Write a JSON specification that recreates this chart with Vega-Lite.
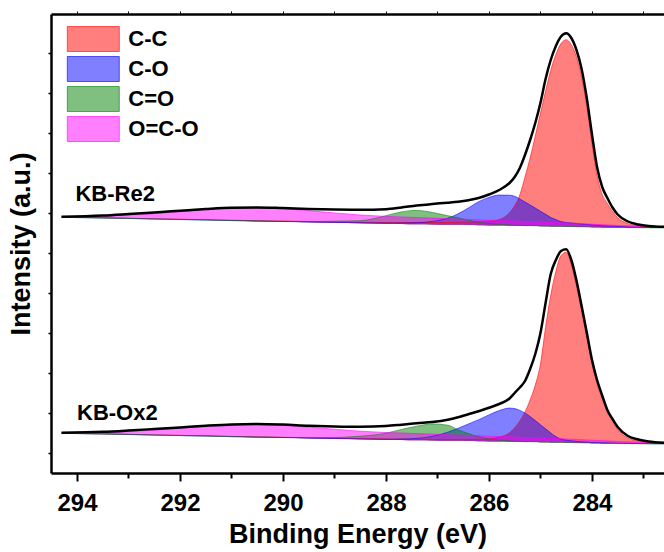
{
  "$schema": "https://vega.github.io/schema/vega-lite/v6.json",
  "width": 613,
  "height": 459,
  "autosize": "none",
  "padding": {"left": 51, "top": 14, "right": 0, "bottom": 79},
  "config": {
    "view": {"stroke": null},
    "font": "Liberation Sans",
    "axis": {"domainColor": "black", "tickColor": "black", "labelColor": "black", "titleColor": "black", "grid": false}
  },
  "data": {"values": [
    {"s":"KB-Re2","e":294.3,"bg":255.7,"C-C":255.9,"C-O":255.7,"C=O":255.7,"O=C-O":256.0,"env":256.2},
    {"s":"KB-Re2","e":293.5,"bg":255.0,"C-C":255.2,"C-O":255.05,"C=O":255.0,"O=C-O":256.8,"env":257.5},
    {"s":"KB-Re2","e":293.0,"bg":254.5,"C-C":254.8,"C-O":254.6,"C=O":254.5,"O=C-O":258.0,"env":259.0},
    {"s":"KB-Re2","e":292.5,"bg":253.9,"C-C":254.2,"C-O":254.0,"C=O":253.95,"O=C-O":259.4,"env":260.6},
    {"s":"KB-Re2","e":292.0,"bg":253.4,"C-C":253.8,"C-O":253.5,"C=O":253.5,"O=C-O":261.4,"env":262.3},
    {"s":"KB-Re2","e":291.5,"bg":252.9,"C-C":253.3,"C-O":253.0,"C=O":253.0,"O=C-O":263.4,"env":264.0},
    {"s":"KB-Re2","e":291.0,"bg":252.3,"C-C":252.8,"C-O":252.4,"C=O":252.5,"O=C-O":264.8,"env":265.3},
    {"s":"KB-Re2","e":290.5,"bg":251.8,"C-C":252.3,"C-O":251.95,"C=O":252.1,"O=C-O":265.3,"env":265.6},
    {"s":"KB-Re2","e":290.0,"bg":251.3,"C-C":251.9,"C-O":251.5,"C=O":251.7,"O=C-O":264.3,"env":264.9},
    {"s":"KB-Re2","e":289.5,"bg":250.8,"C-C":251.5,"C-O":251.05,"C=O":251.4,"O=C-O":262.3,"env":264.0},
    {"s":"KB-Re2","e":289.0,"bg":250.3,"C-C":251.1,"C-O":250.6,"C=O":251.8,"O=C-O":260.1,"env":263.4},
    {"s":"KB-Re2","e":288.5,"bg":249.8,"C-C":250.8,"C-O":250.25,"C=O":252.3,"O=C-O":258.0,"env":263.2},
    {"s":"KB-Re2","e":288.0,"bg":249.3,"C-C":250.5,"C-O":249.9,"C=O":257.3,"O=C-O":256.6,"env":263.8},
    {"s":"KB-Re2","e":287.7,"bg":249.1,"C-C":250.5,"C-O":250.0,"C=O":261.1,"O=C-O":256.1,"env":265.5},
    {"s":"KB-Re2","e":287.4,"bg":248.8,"C-C":250.4,"C-O":250.3,"C=O":262.6,"O=C-O":255.4,"env":267.5},
    {"s":"KB-Re2","e":287.1,"bg":248.6,"C-C":250.5,"C-O":251.6,"C=O":260.6,"O=C-O":254.9,"env":269.0},
    {"s":"KB-Re2","e":286.8,"bg":248.3,"C-C":250.5,"C-O":254.8,"C=O":257.3,"O=C-O":254.3,"env":270.3},
    {"s":"KB-Re2","e":286.6,"bg":248.2,"C-C":250.7,"C-O":259.2,"C=O":255.2,"O=C-O":254.0,"env":271.3},
    {"s":"KB-Re2","e":286.4,"bg":248.0,"C-C":250.9,"C-O":265.0,"C=O":252.8,"O=C-O":253.6,"env":272.8},
    {"s":"KB-Re2","e":286.2,"bg":247.8,"C-C":251.2,"C-O":271.3,"C=O":250.8,"O=C-O":253.2,"env":275.0},
    {"s":"KB-Re2","e":286.0,"bg":247.6,"C-C":251.8,"C-O":275.6,"C=O":249.4,"O=C-O":252.8,"env":278.5},
    {"s":"KB-Re2","e":285.8,"bg":247.4,"C-C":253.4,"C-O":277.9,"C=O":248.6,"O=C-O":252.5,"env":283.0},
    {"s":"KB-Re2","e":285.6,"bg":247.3,"C-C":260.3,"C-O":277.8,"C=O":248.1,"O=C-O":252.2,"env":290.0},
    {"s":"KB-Re2","e":285.5,"bg":247.2,"C-C":267.2,"C-O":276.7,"C=O":247.8,"O=C-O":252.0,"env":296.0},
    {"s":"KB-Re2","e":285.4,"bg":247.1,"C-C":278.1,"C-O":274.1,"C=O":247.6,"O=C-O":251.8,"env":305.0},
    {"s":"KB-Re2","e":285.3,"bg":247.0,"C-C":296.0,"C-O":271.0,"C=O":247.4,"O=C-O":251.6,"env":318.0},
    {"s":"KB-Re2","e":285.2,"bg":247.0,"C-C":315.0,"C-O":268.0,"C=O":247.35,"O=C-O":251.5,"env":333.0},
    {"s":"KB-Re2","e":285.1,"bg":246.9,"C-C":336.9,"C-O":264.9,"C=O":247.2,"O=C-O":251.3,"env":350.0},
    {"s":"KB-Re2","e":285.0,"bg":246.8,"C-C":359.8,"C-O":261.8,"C=O":247.05,"O=C-O":251.1,"env":370.0},
    {"s":"KB-Re2","e":284.9,"bg":246.7,"C-C":381.7,"C-O":258.7,"C=O":246.9,"O=C-O":250.9,"env":394.0},
    {"s":"KB-Re2","e":284.8,"bg":246.6,"C-C":402.6,"C-O":255.6,"C=O":246.8,"O=C-O":250.7,"env":413.0},
    {"s":"KB-Re2","e":284.7,"bg":246.5,"C-C":418.5,"C-O":253.5,"C=O":246.7,"O=C-O":250.5,"env":427.0},
    {"s":"KB-Re2","e":284.6,"bg":246.4,"C-C":429.4,"C-O":251.4,"C=O":246.6,"O=C-O":250.3,"env":436.5},
    {"s":"KB-Re2","e":284.5,"bg":246.3,"C-C":433.3,"C-O":250.6,"C=O":246.5,"O=C-O":250.1,"env":439.7},
    {"s":"KB-Re2","e":284.4,"bg":246.2,"C-C":428.2,"C-O":250.0,"C=O":246.4,"O=C-O":249.8,"env":435.0},
    {"s":"KB-Re2","e":284.3,"bg":246.1,"C-C":416.1,"C-O":249.5,"C=O":246.3,"O=C-O":249.6,"env":423.0},
    {"s":"KB-Re2","e":284.2,"bg":246.0,"C-C":396.0,"C-O":249.0,"C=O":246.2,"O=C-O":249.3,"env":404.0},
    {"s":"KB-Re2","e":284.1,"bg":245.9,"C-C":366.9,"C-O":248.5,"C=O":246.1,"O=C-O":249.1,"env":375.0},
    {"s":"KB-Re2","e":284.0,"bg":245.8,"C-C":329.8,"C-O":248.1,"C=O":246.0,"O=C-O":248.8,"env":339.0},
    {"s":"KB-Re2","e":283.9,"bg":245.7,"C-C":297.7,"C-O":247.7,"C=O":245.9,"O=C-O":248.5,"env":306.0},
    {"s":"KB-Re2","e":283.8,"bg":245.6,"C-C":278.6,"C-O":247.3,"C=O":245.8,"O=C-O":248.3,"env":286.0},
    {"s":"KB-Re2","e":283.7,"bg":245.6,"C-C":269.6,"C-O":247.1,"C=O":245.7,"O=C-O":248.1,"env":275.0},
    {"s":"KB-Re2","e":283.6,"bg":245.5,"C-C":261.5,"C-O":246.8,"C=O":245.6,"O=C-O":247.9,"env":265.5},
    {"s":"KB-Re2","e":283.5,"bg":245.4,"C-C":255.4,"C-O":246.5,"C=O":245.5,"O=C-O":247.6,"env":258.5},
    {"s":"KB-Re2","e":283.3,"bg":245.3,"C-C":249.3,"C-O":246.1,"C=O":245.4,"O=C-O":247.2,"env":251.5},
    {"s":"KB-Re2","e":283.1,"bg":245.2,"C-C":247.5,"C-O":245.8,"C=O":245.3,"O=C-O":246.8,"env":248.5},
    {"s":"KB-Re2","e":282.9,"bg":245.1,"C-C":246.3,"C-O":245.6,"C=O":245.2,"O=C-O":246.4,"env":247.0},
    {"s":"KB-Re2","e":282.6,"bg":245.0,"C-C":245.5,"C-O":245.4,"C=O":245.1,"O=C-O":246.0,"env":246.2},
    {"s":"KB-Ox2","e":294.3,"bg":39.7,"C-C":39.8,"C-O":39.7,"C=O":39.7,"O=C-O":40.0,"env":40.2},
    {"s":"KB-Ox2","e":293.5,"bg":39.0,"C-C":39.15,"C-O":39.0,"C=O":39.0,"O=C-O":40.5,"env":41.2},
    {"s":"KB-Ox2","e":293.0,"bg":38.5,"C-C":38.7,"C-O":38.55,"C=O":38.5,"O=C-O":41.5,"env":42.5},
    {"s":"KB-Ox2","e":292.5,"bg":37.9,"C-C":38.1,"C-O":37.95,"C=O":37.9,"O=C-O":42.9,"env":44.0},
    {"s":"KB-Ox2","e":292.0,"bg":37.4,"C-C":37.65,"C-O":37.45,"C=O":37.4,"O=C-O":44.9,"env":45.6},
    {"s":"KB-Ox2","e":291.5,"bg":36.9,"C-C":37.2,"C-O":37.0,"C=O":36.9,"O=C-O":46.9,"env":47.3},
    {"s":"KB-Ox2","e":291.0,"bg":36.3,"C-C":36.6,"C-O":36.4,"C=O":36.3,"O=C-O":48.3,"env":48.6},
    {"s":"KB-Ox2","e":290.5,"bg":35.8,"C-C":36.15,"C-O":35.9,"C=O":35.9,"O=C-O":48.8,"env":49.0},
    {"s":"KB-Ox2","e":290.0,"bg":35.3,"C-C":35.7,"C-O":35.45,"C=O":35.6,"O=C-O":47.8,"env":48.4},
    {"s":"KB-Ox2","e":289.5,"bg":34.8,"C-C":35.25,"C-O":34.95,"C=O":35.3,"O=C-O":45.8,"env":47.3},
    {"s":"KB-Ox2","e":289.0,"bg":34.3,"C-C":34.8,"C-O":34.5,"C=O":35.5,"O=C-O":43.8,"env":46.6},
    {"s":"KB-Ox2","e":288.5,"bg":33.8,"C-C":34.4,"C-O":34.1,"C=O":36.8,"O=C-O":41.8,"env":46.3},
    {"s":"KB-Ox2","e":288.0,"bg":33.3,"C-C":34.0,"C-O":33.7,"C=O":39.8,"O=C-O":40.5,"env":47.0},
    {"s":"KB-Ox2","e":287.7,"bg":33.1,"C-C":33.9,"C-O":33.9,"C=O":43.6,"O=C-O":40.0,"env":48.3},
    {"s":"KB-Ox2","e":287.4,"bg":32.8,"C-C":33.7,"C-O":34.6,"C=O":46.8,"O=C-O":39.4,"env":49.8},
    {"s":"KB-Ox2","e":287.1,"bg":32.6,"C-C":33.6,"C-O":36.6,"C=O":49.1,"O=C-O":38.9,"env":51.0},
    {"s":"KB-Ox2","e":286.8,"bg":32.3,"C-C":33.4,"C-O":40.8,"C=O":47.8,"O=C-O":38.3,"env":53.3},
    {"s":"KB-Ox2","e":286.6,"bg":32.2,"C-C":33.4,"C-O":44.7,"C=O":43.2,"O=C-O":38.0,"env":55.8},
    {"s":"KB-Ox2","e":286.4,"bg":32.0,"C-C":33.4,"C-O":49.0,"C=O":39.5,"O=C-O":37.6,"env":58.8},
    {"s":"KB-Ox2","e":286.2,"bg":31.8,"C-C":33.6,"C-O":53.3,"C=O":36.3,"O=C-O":37.2,"env":61.8},
    {"s":"KB-Ox2","e":286.0,"bg":31.6,"C-C":34.1,"C-O":58.1,"C=O":34.1,"O=C-O":36.8,"env":65.2},
    {"s":"KB-Ox2","e":285.8,"bg":31.4,"C-C":35.9,"C-O":62.4,"C=O":32.9,"O=C-O":36.4,"env":69.0},
    {"s":"KB-Ox2","e":285.6,"bg":31.3,"C-C":40.3,"C-O":64.9,"C=O":32.2,"O=C-O":36.2,"env":74.5},
    {"s":"KB-Ox2","e":285.5,"bg":31.2,"C-C":45.2,"C-O":64.4,"C=O":31.8,"O=C-O":36.0,"env":80.0},
    {"s":"KB-Ox2","e":285.4,"bg":31.1,"C-C":52.1,"C-O":62.6,"C=O":31.6,"O=C-O":35.8,"env":85.5},
    {"s":"KB-Ox2","e":285.3,"bg":31.0,"C-C":61.0,"C-O":60.0,"C=O":31.4,"O=C-O":35.6,"env":92.0},
    {"s":"KB-Ox2","e":285.2,"bg":31.0,"C-C":73.0,"C-O":56.5,"C=O":31.3,"O=C-O":35.5,"env":104.0},
    {"s":"KB-Ox2","e":285.1,"bg":30.9,"C-C":87.9,"C-O":52.4,"C=O":31.2,"O=C-O":35.3,"env":119.0},
    {"s":"KB-Ox2","e":285.0,"bg":30.8,"C-C":108.8,"C-O":48.3,"C=O":31.0,"O=C-O":35.1,"env":139.7},
    {"s":"KB-Ox2","e":284.9,"bg":30.7,"C-C":145.7,"C-O":44.2,"C=O":30.9,"O=C-O":34.9,"env":170.0},
    {"s":"KB-Ox2","e":284.8,"bg":30.6,"C-C":177.6,"C-O":40.1,"C=O":30.8,"O=C-O":34.7,"env":199.0},
    {"s":"KB-Ox2","e":284.7,"bg":30.5,"C-C":201.5,"C-O":36.5,"C=O":30.7,"O=C-O":34.5,"env":213.0},
    {"s":"KB-Ox2","e":284.6,"bg":30.4,"C-C":217.4,"C-O":33.9,"C=O":30.6,"O=C-O":34.3,"env":222.0},
    {"s":"KB-Ox2","e":284.5,"bg":30.3,"C-C":220.8,"C-O":32.8,"C=O":30.5,"O=C-O":34.1,"env":223.7},
    {"s":"KB-Ox2","e":284.4,"bg":30.2,"C-C":208.2,"C-O":32.2,"C=O":30.35,"O=C-O":33.8,"env":213.0},
    {"s":"KB-Ox2","e":284.3,"bg":30.1,"C-C":187.1,"C-O":31.6,"C=O":30.25,"O=C-O":33.6,"env":192.5},
    {"s":"KB-Ox2","e":284.2,"bg":30.0,"C-C":162.0,"C-O":31.2,"C=O":30.15,"O=C-O":33.3,"env":167.0},
    {"s":"KB-Ox2","e":284.1,"bg":29.9,"C-C":135.9,"C-O":30.9,"C=O":30.05,"O=C-O":33.1,"env":140.5},
    {"s":"KB-Ox2","e":284.0,"bg":29.8,"C-C":109.8,"C-O":30.6,"C=O":29.95,"O=C-O":32.8,"env":113.5},
    {"s":"KB-Ox2","e":283.9,"bg":29.7,"C-C":89.7,"C-O":30.4,"C=O":29.85,"O=C-O":32.5,"env":93.0},
    {"s":"KB-Ox2","e":283.8,"bg":29.6,"C-C":74.6,"C-O":30.2,"C=O":29.75,"O=C-O":32.3,"env":77.5},
    {"s":"KB-Ox2","e":283.7,"bg":29.6,"C-C":60.6,"C-O":30.1,"C=O":29.7,"O=C-O":32.1,"env":63.0},
    {"s":"KB-Ox2","e":283.6,"bg":29.5,"C-C":51.5,"C-O":29.95,"C=O":29.6,"O=C-O":31.9,"env":54.0},
    {"s":"KB-Ox2","e":283.5,"bg":29.4,"C-C":43.4,"C-O":29.8,"C=O":29.5,"O=C-O":31.6,"env":46.0},
    {"s":"KB-Ox2","e":283.3,"bg":29.3,"C-C":34.8,"C-O":29.6,"C=O":29.4,"O=C-O":31.2,"env":37.0},
    {"s":"KB-Ox2","e":283.1,"bg":29.2,"C-C":32.0,"C-O":29.45,"C=O":29.3,"O=C-O":30.8,"env":33.5},
    {"s":"KB-Ox2","e":282.9,"bg":29.1,"C-C":30.9,"C-O":29.3,"C=O":29.2,"O=C-O":30.4,"env":31.5},
    {"s":"KB-Ox2","e":282.6,"bg":29.0,"C-C":29.8,"C-O":29.15,"C=O":29.1,"O=C-O":30.0,"env":30.3}
  ]},
  "resolve": {"axis": {"x": "independent"}},
  "layer": [
    {
      "transform": [{"fold": ["C-C", "C-O", "C=O", "O=C-O"], "as": ["comp", "top"]}],
      "mark": {"type": "area", "interpolate": "monotone", "fillOpacity": 0.5, "line": {"strokeWidth": 0.8, "opacity": 0.7}},
      "encoding": {
        "x": {"field": "e", "type": "quantitative",
          "scale": {"domain": [282.6, 294.505], "reverse": true, "nice": false, "zero": false},
          "axis": {"orient": "bottom", "values": [283, 284, 285, 286, 287, 288, 289, 290, 291, 292, 293, 294],
            "labelExpr": "datum.value % 2 === 0 ? datum.label : ''",
            "tickSize": {"condition": {"test": "datum.value % 2 === 0", "value": 8}, "value": 5},
            "tickWidth": 2, "domainWidth": 2.5, "labelFontSize": 24, "labelFontWeight": "bold", "labelFont": "Liberation Sans",
            "labelPadding": 10, "title": "Binding Energy (eV)", "titleFontSize": 27, "titleFontWeight": "bold", "titleFont": "Liberation Sans", "titlePadding": 6}},
        "y": {"field": "top", "type": "quantitative",
          "scale": {"domain": [0, 459], "nice": false, "zero": false},
          "axis": {"orient": "left", "labels": false, "values": [20, 40, 60, 80, 100, 120, 140, 160, 180, 200, 220, 240, 260, 280, 300, 320, 340, 360, 380, 400, 420, 440],
            "tickSize": 3, "tickWidth": 1.5, "domainWidth": 2.5, "title": "Intensity (a.u.)", "titleFontSize": 27, "titleFontWeight": "bold", "titleFont": "Liberation Sans", "titlePadding": 12}},
        "y2": {"field": "bg"},
        "color": {"field": "comp", "type": "nominal",
          "scale": {"domain": ["C-C", "C-O", "C=O", "O=C-O"], "range": ["#FF0000", "#0000FF", "#008000", "#FF00FF"]},
          "legend": {"title": null, "orient": "none", "legendX": 31.3, "legendY": 14, "padding": 0,
            "symbolType": "M-2.6,-1.25L2.6,-1.25L2.6,1.25L-2.6,1.25Z", "symbolSize": 400, "rowPadding": 0,
            "labelFont": "Liberation Sans", "labelFontSize": 22, "labelFontWeight": "bold", "labelColor": "black", "labelOffset": 24,
            "symbolStrokeWidth": 1,
            "encode": {"symbols": {"update": {"fill": {"scale": "color", "field": "value"}, "fillOpacity": {"value": 0.5}, "stroke": {"value": "#555555"}, "strokeOpacity": {"value": 0.6}, "opacity": {"value": 1}}}}}},
        "detail": {"field": "s"}
      }
    },
    {
      "mark": {"type": "line", "interpolate": "monotone", "color": "black", "strokeWidth": 2.5},
      "encoding": {
        "x": {"field": "e", "type": "quantitative",
          "axis": {"orient": "top", "values": [283, 284, 285, 286, 287, 288, 289, 290, 291, 292, 293, 294], "labels": false, "tickSize": 3, "tickWidth": 1, "domainWidth": 2.5, "title": null}},
        "y": {"field": "env", "type": "quantitative"},
        "detail": {"field": "s"}
      }
    },
    {
      "data": {"values": [
        {"e": 294.03, "v": 279, "label": "KB-Re2"},
        {"e": 294.0, "v": 60.3, "label": "KB-Ox2"}
      ]},
      "mark": {"type": "text", "align": "left", "baseline": "middle", "font": "Liberation Sans", "fontSize": 22, "fontWeight": "bold", "color": "black"},
      "encoding": {
        "x": {"field": "e", "type": "quantitative", "axis": null},
        "y": {"field": "v", "type": "quantitative"},
        "text": {"field": "label"}
      }
    }
  ]
}
